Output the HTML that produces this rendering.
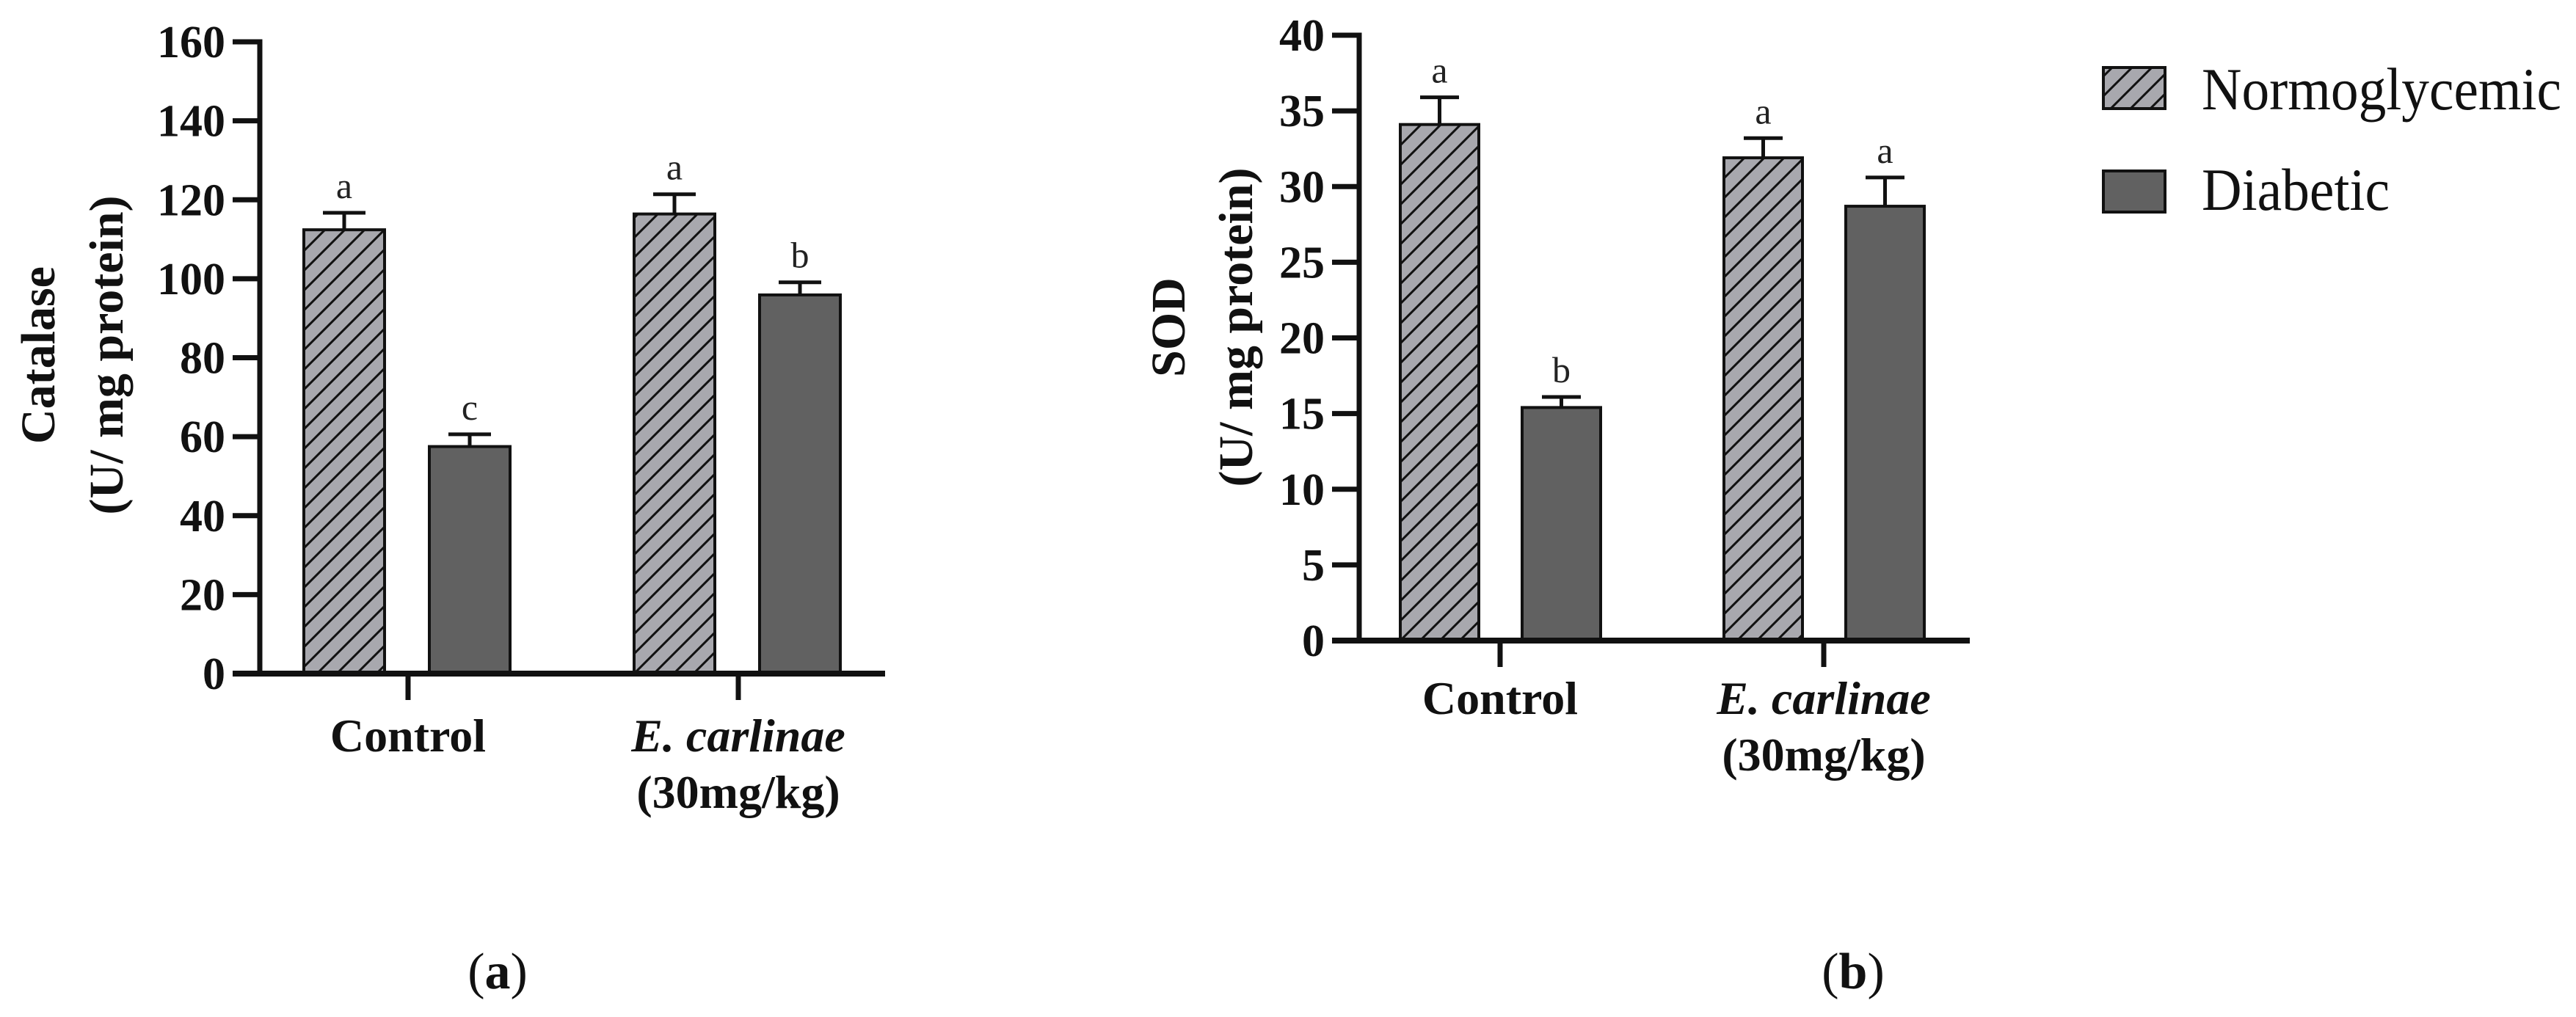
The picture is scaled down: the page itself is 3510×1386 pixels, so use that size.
<!DOCTYPE html>
<html><head><meta charset="utf-8"><style>
html,body{margin:0;padding:0;background:#fff;}
svg{display:block;font-family:"Liberation Serif",serif;}
</style></head>
<body>
<svg id="fig" width="3510" height="1386" viewBox="0 0 3510 1386" xmlns="http://www.w3.org/2000/svg">
<defs>
<pattern id="hatch" patternUnits="userSpaceOnUse" width="27" height="27">
<rect width="27" height="27" fill="#a8a8ae"/>
<path d="M-7,7 L7,-7 M0,27 L27,0 M20,34 L34,20" stroke="#111" stroke-width="3"/>
</pattern>
</defs>
<g id="chartA"></g>
<g id="chartB"></g>
<g id="legend">
<rect x="2866" y="92" width="84" height="56" fill="url(#hatch)" stroke="#111" stroke-width="4"/>
<text x="3000" y="149" font-size="82" textLength="490" lengthAdjust="spacingAndGlyphs" fill="#111">Normoglycemic</text>
<rect x="2866" y="233" width="84" height="56" fill="#616161" stroke="#111" stroke-width="4"/>
<text x="3000" y="286" font-size="82" textLength="256" lengthAdjust="spacingAndGlyphs" fill="#111">Diabetic</text>
</g>
<text x="678" y="1347" font-size="70" text-anchor="middle" fill="#111">(<tspan font-weight="bold">a</tspan>)</text>
<text x="2525" y="1347" font-size="70" text-anchor="middle" fill="#111">(<tspan font-weight="bold">b</tspan>)</text>
</svg>
<script>
const categories = ["Control", "E. carlinae"];
const catalaseNormo = [112.4, 116.4];
const catalaseNormoErr = [4.3, 5.0];
const catalaseDiab = [57.5, 95.9];
const catalaseDiabErr = [3.1, 3.2];
const catalaseLetters = [["a","c"],["a","b"]];
const catalaseTicks = [0,20,40,60,80,100,120,140,160];
const sodNormo = [34.1, 31.9];
const sodNormoErr = [1.8, 1.3];
const sodDiab = [15.4, 28.7];
const sodDiabErr = [0.7, 1.9];
const sodLetters = [["a","b"],["a","a"]];
const sodTicks = [0,5,10,15,20,25,30,35,40];

const NS = "http://www.w3.org/2000/svg";
function mk(parent, tag, attrs, text){
  const e = document.createElementNS(NS, tag);
  for (const k in attrs) e.setAttribute(k, attrs[k]);
  if (text !== undefined) e.textContent = text;
  parent.appendChild(e);
  return e;
}
function drawChart(g, cfg){
  const y = v => cfg.y0 - (v - cfg.min) / (cfg.max - cfg.min) * (cfg.y0 - cfg.yTop);
  for (let i = 0; i < categories.length; i++){
    const c = cfg.cats[i];
    const series = [
      {v: cfg.normo[i], e: cfg.normoErr[i], fill: "url(#hatch)", nm: "normoglycemic", x: c - cfg.offN},
      {v: cfg.diab[i], e: cfg.diabErr[i], fill: "#616161", nm: "diabetic", x: c + cfg.offD}
    ];
    series.forEach((s, j) => {
      const top = y(s.v), et = y(s.v + s.e);
      const cx = s.x + cfg.bw / 2;
      const eline = mk(g, "line", {x1: cx, x2: cx, y1: top, y2: et, stroke: "#111", "stroke-width": 5});
      
      
      const cap = mk(g, "line", {x1: cx - cfg.cap/2, x2: cx + cfg.cap/2, y1: et, y2: et, stroke: "#111", "stroke-width": 5});
      
      
      const r = mk(g, "rect", {x: s.x, y: top, width: cfg.bw, height: cfg.y0 - top, fill: s.fill, stroke: "#111", "stroke-width": 4});
      
      
      const t = mk(g, "text", {x: cx, y: et - 20, "font-size": 50, "text-anchor": "middle", fill: "#222"}, cfg.letters[i][j]);
      
      
    });
    const ct = mk(g, "line", {x1: c, x2: c, y1: cfg.y0, y2: cfg.y0 + 36, stroke: "#111", "stroke-width": 7});
    
    
  }
  const ya = mk(g, "line", {x1: cfg.ax, x2: cfg.ax, y1: cfg.yTop - 3.5, y2: cfg.y0 + 3.5, stroke: "#111", "stroke-width": 7});
  
  
  const xa = mk(g, "line", {x1: cfg.ax - 37, x2: cfg.xEnd, y1: cfg.y0, y2: cfg.y0, stroke: "#111", "stroke-width": 8});
  
  
  cfg.ticks.forEach(v => {
    const ty = y(v);
    const tk = mk(g, "line", {x1: cfg.ax - 37, x2: cfg.ax, y1: ty, y2: ty, stroke: "#111", "stroke-width": 7});
    
    
    const tl = mk(g, "text", {x: cfg.ax - 47, y: ty + 21, "font-size": 62, "font-weight": "bold", "text-anchor": "end", fill: "#111"}, String(v));
    
    
  });
  const l1 = mk(g, "text", {x: cfg.cats[0], y: cfg.lab1, "font-size": 64, "font-weight": "bold", "text-anchor": "middle", fill: "#111"}, categories[0]);
  
  
  const l2 = mk(g, "text", {x: cfg.cats[1], y: cfg.lab1, "font-size": 64, "font-weight": "bold", "font-style": "italic", "text-anchor": "middle", fill: "#111"}, categories[1]);
  
  
  const l3 = mk(g, "text", {x: cfg.cats[1], y: cfg.lab2, "font-size": 64, "font-weight": "bold", "text-anchor": "middle", fill: "#111"}, "(30mg/kg)");
  
  
  const t1 = mk(g, "text", {x: 0, y: 0, "font-size": 66, "font-weight": "bold", "text-anchor": "middle", fill: "#111", transform: `translate(${cfg.tx1},${cfg.tyc}) rotate(-90)`}, cfg.title);
  
  
  const t2 = mk(g, "text", {x: 0, y: 0, "font-size": 66, "font-weight": "bold", "text-anchor": "middle", fill: "#111", transform: `translate(${cfg.tx2},${cfg.tyc}) rotate(-90)`}, "(U/ mg protein)");
  
  
}
drawChart(document.getElementById("chartA"), {
  min: 0, max: 160, y0: 918, yTop: 57, ax: 354, xEnd: 1206,
  cats: [556, 1006], offN: 142, offD: 29, bw: 110, cap: 58,
  normo: catalaseNormo, normoErr: catalaseNormoErr, diab: catalaseDiab, diabErr: catalaseDiabErr,
  letters: catalaseLetters, ticks: catalaseTicks,
  lab1: 1024, lab2: 1101, title: "Catalase", tx1: 74, tx2: 167, tyc: 484
});
drawChart(document.getElementById("chartB"), {
  min: 0, max: 40, y0: 873, yTop: 48, ax: 1852, xEnd: 2684,
  cats: [2044, 2485], offN: 136, offD: 30, bw: 107, cap: 53,
  normo: sodNormo, normoErr: sodNormoErr, diab: sodDiab, diabErr: sodDiabErr,
  letters: sodLetters, ticks: sodTicks,
  lab1: 973, lab2: 1050, title: "SOD", tx1: 1614, tx2: 1706, tyc: 446
});
</script>
</body></html>
